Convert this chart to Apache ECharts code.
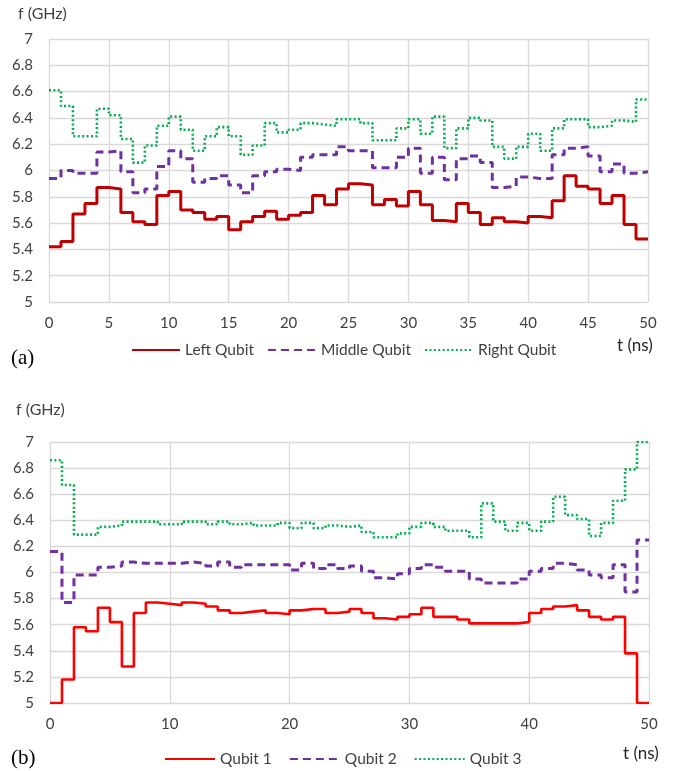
<!DOCTYPE html>
<html>
<head>
<meta charset="utf-8">
<script src="https://cdn.jsdelivr.net/npm/echarts@6/dist/echarts.min.js"></script>
<style>
  html, body { margin: 0; padding: 0; background: #fff; }
  #chart { width: 678px; height: 771px; }
</style>
</head>
<body>
<div id="chart"></div>
<script>
// panel (a): frequency per 1 ns step
const aLeft = [5.42, 5.46, 5.67, 5.75, 5.87, 5.86, 5.68, 5.61, 5.59, 5.81,
  5.84, 5.70, 5.68, 5.63, 5.65, 5.55, 5.61, 5.65, 5.69, 5.63,
  5.66, 5.68, 5.81, 5.74, 5.86, 5.90, 5.89, 5.74, 5.78, 5.73,
  5.84, 5.74, 5.62, 5.61, 5.75, 5.68, 5.59, 5.64, 5.61, 5.60,
  5.65, 5.64, 5.77, 5.96, 5.88, 5.86, 5.75, 5.81, 5.59, 5.48];
const aMiddle = [5.94, 6.00, 5.98, 5.98, 6.14, 6.15, 5.99, 5.83, 5.86, 6.03,
  6.15, 6.09, 5.91, 5.94, 5.96, 5.89, 5.83, 5.96, 5.99, 6.01,
  6.00, 6.10, 6.12, 6.12, 6.18, 6.15, 6.15, 6.02, 6.02, 6.10,
  6.17, 5.98, 6.10, 5.93, 6.09, 6.11, 6.06, 5.87, 5.88, 5.95,
  5.94, 5.94, 6.12, 6.17, 6.18, 6.11, 5.99, 6.05, 5.98, 5.99];
const aRight = [6.61, 6.49, 6.26, 6.26, 6.47, 6.42, 6.24, 6.06, 6.19, 6.34,
  6.41, 6.31, 6.15, 6.26, 6.33, 6.26, 6.12, 6.19, 6.36, 6.29,
  6.31, 6.36, 6.35, 6.34, 6.39, 6.39, 6.36, 6.23, 6.23, 6.32,
  6.39, 6.28, 6.41, 6.17, 6.32, 6.40, 6.38, 6.18, 6.09, 6.18,
  6.28, 6.15, 6.32, 6.39, 6.39, 6.33, 6.34, 6.38, 6.37, 6.54];

// panel (b)
const bQubit1 = [5.00, 5.18, 5.58, 5.55, 5.73, 5.62, 5.28, 5.69, 5.77, 5.76,
  5.75, 5.77, 5.76, 5.74, 5.71, 5.69, 5.70, 5.71, 5.69, 5.68,
  5.71, 5.72, 5.72, 5.69, 5.70, 5.72, 5.69, 5.65, 5.64, 5.66,
  5.68, 5.73, 5.66, 5.66, 5.64, 5.61, 5.61, 5.61, 5.61, 5.62,
  5.69, 5.72, 5.74, 5.75, 5.71, 5.66, 5.64, 5.66, 5.38, 5.00];
const bQubit2 = [6.16, 5.77, 5.98, 5.98, 6.04, 6.05, 6.08, 6.07, 6.07, 6.07,
  6.07, 6.08, 6.07, 6.05, 6.08, 6.04, 6.06, 6.06, 6.06, 6.06,
  6.02, 6.07, 6.03, 6.06, 6.03, 6.05, 6.01, 5.96, 5.95, 5.99,
  6.03, 6.06, 6.04, 6.01, 6.01, 5.95, 5.92, 5.92, 5.92, 5.95,
  6.01, 6.03, 6.07, 6.06, 6.02, 5.98, 5.96, 6.06, 5.85, 6.25];
const bQubit3 = [6.86, 6.67, 6.29, 6.29, 6.35, 6.36, 6.39, 6.39, 6.39, 6.37,
  6.37, 6.39, 6.39, 6.37, 6.39, 6.37, 6.38, 6.36, 6.36, 6.38,
  6.34, 6.38, 6.34, 6.36, 6.35, 6.36, 6.31, 6.27, 6.27, 6.30,
  6.35, 6.38, 6.35, 6.32, 6.32, 6.27, 6.53, 6.39, 6.32, 6.38,
  6.32, 6.39, 6.58, 6.44, 6.41, 6.28, 6.38, 6.55, 6.79, 7.00];

// each value holds for one ns, last one held until t = 50
function steps(vals) {
  const pts = vals.map((v, i) => [i, v]);
  pts.push([vals.length, vals[vals.length - 1]]);
  return pts;
}

const font = 'Lato';
const txt = '#404040';
const gridColor = '#d9d9d9';
const dotted = [2, 2.4];
const dashed = [8, 5];

function xAxis(idx, interval) {
  return {
    type: 'value', gridIndex: idx, min: 0, max: 50, interval: interval,
    axisLine: { show: false }, axisTick: { show: false },
    axisLabel: { color: txt, fontFamily: font, fontSize: 15, margin: 14 },
    splitLine: { lineStyle: { color: gridColor, width: 1.3 } }
  };
}
function yAxis(idx) {
  return {
    type: 'value', gridIndex: idx, min: 5, max: 7, interval: 0.2,
    axisLine: { show: false }, axisTick: { show: false },
    axisLabel: { color: txt, fontFamily: font, fontSize: 15, margin: 16 },
    splitLine: { lineStyle: { color: gridColor, width: 1.3 } }
  };
}
function line(name, idx, data, color, width, type) {
  return {
    name: name, type: 'line', step: 'end', xAxisIndex: idx, yAxisIndex: idx,
    data: steps(data), symbol: 'none', animation: false,
    lineStyle: { color: color, width: width, type: type, cap: 'butt' },
    itemStyle: { color: color }
  };
}
const legendBase = {
  orient: 'horizontal', itemHeight: 14,
  itemStyle: { opacity: 0 },
  textStyle: { color: txt, fontFamily: font, fontSize: 15.5 }
};

const chart = echarts.init(document.getElementById('chart'));
chart.setOption({
  backgroundColor: '#fff',
  grid: [
    { left: 49, top: 39, width: 599, height: 263 },
    { left: 50, top: 442, width: 599, height: 261 }
  ],
  xAxis: [xAxis(0, 5), xAxis(1, 10)],
  yAxis: [yAxis(0), yAxis(1)],
  legend: [
    Object.assign({}, legendBase, { left: 126, top: 337, itemWidth: 48, itemGap: 13,
      data: ['Left Qubit', 'Middle Qubit', 'Right Qubit'] }),
    Object.assign({}, legendBase, { left: 159, top: 746, itemWidth: 50, itemGap: 17,
      data: ['Qubit 1', 'Qubit 2', 'Qubit 3'] })
  ],
  graphic: [
    { type: 'text', left: 18, top: 6, style: { text: 'f (GHz)', font: '16px Lato', fill: txt } },
    { type: 'text', left: 16, top: 402, style: { text: 'f (GHz)', font: '16px Lato', fill: txt } },
    { type: 'text', left: 617, top: 337, style: { text: 't (ns)', font: '17px Lato', fill: '#262626' } },
    { type: 'text', left: 623, top: 745, style: { text: 't (ns)', font: '17px Lato', fill: '#262626' } },
    { type: 'text', left: 11, top: 348, style: { text: '(a)', font: '21px "Liberation Serif"', fill: '#000' } },
    { type: 'text', left: 11, top: 748, style: { text: '(b)', font: '21px "Liberation Serif"', fill: '#000' } }
  ],
  series: [
    line('Left Qubit', 0, aLeft, '#c00000', 3, 'solid'),
    line('Middle Qubit', 0, aMiddle, '#7030a0', 3, dashed),
    line('Right Qubit', 0, aRight, '#00b050', 2.6, dotted),
    line('Qubit 1', 1, bQubit1, '#ff0000', 2.6, 'solid'),
    line('Qubit 2', 1, bQubit2, '#7030a0', 3, dashed),
    line('Qubit 3', 1, bQubit3, '#00b050', 2.6, dotted)
  ]
});
</script>
</body>
</html>
